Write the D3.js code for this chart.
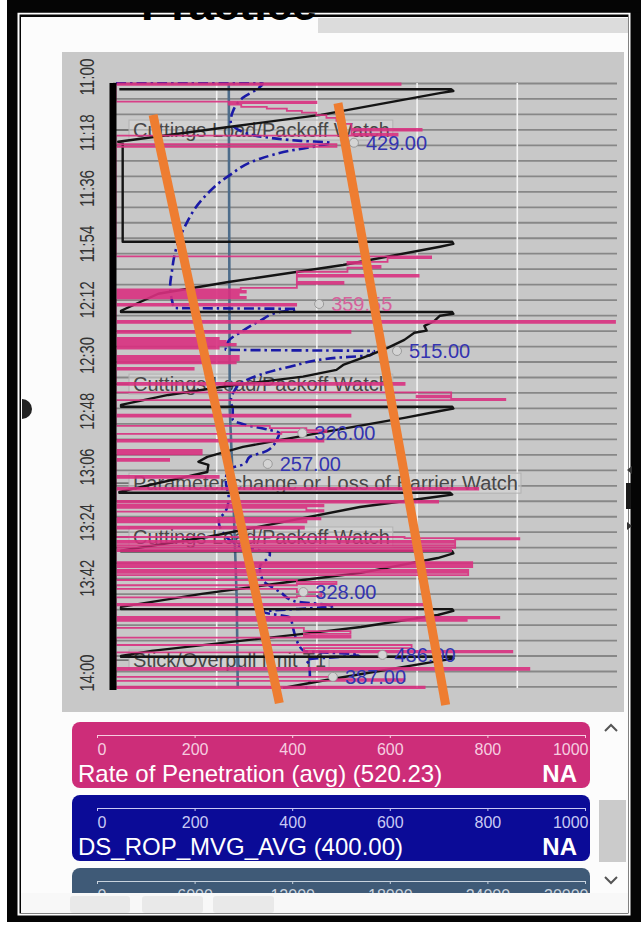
<!DOCTYPE html>
<html>
<head>
<meta charset="utf-8">
<script src="https://cdn.jsdelivr.net/npm/d3@7"></script>
<style>
  html, body { margin: 0; padding: 0; background: #ffffff; }
  svg { display: block; font-family: "Liberation Sans", Arial, sans-serif; }
</style>
</head>
<body>
<svg id="chart" width="641" height="928"></svg>
<script>
// ---------------- data ----------------
// time is in minutes after 11:00

// Rate of Penetration samples [minute, ROP]
const ropSamples = [
  [0,0],[0.1,568],[0.6,0],
  [6.0,400],[6.5,225],[7.0,250],[7.7,301],[8.3,341],[9.0,371],[9.6,400],[10.4,420],[11.3,440],[12.2,454],[13.2,470],[14.8,610],[15.4,470],[16.4,562],[17.0,0],
  [19.8,440],[20.6,0],
  [56.0,629],[56.6,542],[57.8,462],[58.4,500],[59.1,528],[59.7,462],[61.0,361],[62.0,604],[62.6,361],[64.3,454],[64.9,361],[66.2,249],[66.7,0],[67.2,259],[67.7,0],[68.2,245],[68.7,0],[69.1,259],[69.6,0],
  [71.4,359.55],[71.9,0],
  [76.9,996],[77.5,0],
  [80.1,468],[80.7,0],
  [82.4,205],[82.9,0],[83.3,219],[83.8,0],[84.3,239],[84.8,0],[85.3,205],[85.8,0],
  [88.2,245],[88.7,0],[89.1,245],[89.6,0],[90.1,239],[90.6,0],[92.1,155],[92.6,0],
  [96.9,576],[97.5,0],
  [100.0,669],[101.0,600],[101.6,669],[102.1,777],[102.5,0],
  [107.2,468],[107.8,0],
  [110.8,307],[111.5,380],[112.2,420],[112.8,330],[113.4,0],
  [115.3,414],[115.9,0],
  [118.6,171],[119.2,0],[119.5,171],[120.0,0],
  [121.5,106],[122.1,0],
  [127.0,205],[127.6,0],
  [130.8,723],[131.4,0],
  [135.0,643],[135.6,0],
  [136.3,414],[136.8,0],[137.3,380],[138.0,414],[138.5,0],
  [140.5,408],[141.0,0],[141.5,380],[142.0,0],
  [143.4,375],[144.0,0],
  [146.7,576],[147.1,805],[147.5,677],[148.0,0],
  [148.6,677],[149.3,0],[149.6,677],[150.2,0],
  [150.9,669],[151.3,0],
  [154.8,711],[155.4,0],[155.8,711],[156.4,0],
  [157.3,703],[157.8,0],[158.3,703],[159.0,0],
  [160.6,361],[161.2,440],[161.9,361],[162.3,0],
  [163.5,361],[164.5,410],[165.8,361],[166.2,0],
  [168.3,616],[168.8,0],
  [172.5,765],[173.0,0],[173.3,700],[173.8,0],
  [176.1,375],[177.1,468],[178.0,375],[178.7,468],[179.2,0],
  [181.6,590],[182.6,375],[183.5,791],[184.0,0],
  [189.0,825],[189.6,0],
  [191.9,440],[192.6,576],[193.2,0],
  [195.1,616],[195.5,0]
];

// DS_ROP_MVG_AVG samples [minute, value]
const ropAvgSamples = [
  [0,0],[0.05,293],[1.6,285],[4.8,253],[9.3,233],[12.5,229],[15.8,253],[17.4,293],[18.7,369],[19.3,429],
  [20.3,404],[21.9,347],[24.5,287],[30.0,225],[37.8,171],[46.5,137],[56.2,116],[60.4,112],[65.9,108],
  [70.4,112],[72.7,116],[73.0,361],[74.0,327],[76.9,287],[80.1,253],[83.3,225],[86.2,219],[86.6,515],
  [87.9,508],[88.8,440],[91.7,347],[94.3,287],[96.6,253],[99.8,235],[103.0,229],[105.3,233],[108.8,233],
  [110.5,259],[112.1,307],[113.1,326],[115.3,321],[118.9,301],[120.8,267],[123.1,257],[124.7,225],
  [128.6,219],[134.1,225],[138.3,219],[141.5,205],[145.1,213],[148.3,233],[150.6,267],[151.5,307],
  [152.5,307],[156.4,287],[160.6,293],[164.5,328],[167.4,355],[169.0,434],[170.9,293],[172.7,347],
  [177.1,355],[180.3,361],[183.5,375],[184.8,486],[186.4,380],[188.0,386],[191.9,387],[194.5,386],[195.5,378]
];

// block position samples [minute, metres]
const blockSamples = [
  [2.0,0.3],[2.0,30.1],[2.6,30.3],[3.2,29.2],[10.3,18.4],[14.2,10.1],[19.0,0.2],[19.3,0.6],[51.3,0.6],
  [51.3,30.2],[52.0,30.3],[52.9,29.1],[58.8,20.4],[64.3,10.1],[68.1,3.8],[73.6,0.45],
  [74.0,0.45],[74.0,30.2],[74.6,30.3],[75.2,29.1],[76.9,28.6],[78.5,27.7],[80.0,27.9],[80.7,26.8],[83.0,25.9],
  [85.6,24.4],[87.9,22.8],[91.1,20.4],[92.7,19.8],[94.9,16.8],[97.5,10.8],[100.8,4.7],[104.0,0.45],
  [104.6,0.45],[104.6,30.2],[105.2,30.3],[106.0,29.1],[108.2,25.9],[112.1,19.8],[115.0,15.3],[117.6,11.4],
  [120.8,8.2],[122.4,7.4],[123.4,8.3],[125.7,8.2],[132.1,0.3],
  [132.4,0.3],[132.4,30.0],[133.0,30.2],[133.7,28.8],[137.0,21.9],[142.2,14.5],[146.7,8.2],[151.1,0.45],
  [151.3,0.45],[151.3,30.2],[152.0,30.3],[153.5,28.9],[158.3,22.0],[160.6,16.8],[165.1,7.7],[169.3,0.45],
  [170.0,0.45],[170.0,30.2],[170.6,30.3],[171.9,28.9],[175.8,22.0],[178.0,16.8],[183.5,3.2],[185.1,0.45],
  [185.4,0.45],[185.4,30.2],[186.0,30.3],[186.8,28.9],[192.9,18.9],[195.5,15.0]
];

// third lane (0–30000) samples [minute, value]
const laneThreeSamples = [[0,6753],[105.7,6813],[128.3,6992],[167.1,7231],[195.5,7291]];

// value call-outs [series, minute, value]
const valueCallouts = [
  ["avg",19.3,429],["rop",71.4,359.55],["avg",86.6,515],["avg",113.1,326],
  ["avg",123.1,257],["avg",164.5,328],["avg",184.8,486],["avg",191.9,387]
];

// event markers [minute, text]
const eventMinutes = [15.2, 97.3, 129.3, 146.7, 186.5];
const eventTexts = [
  "Cuttings Load/Packoff Watch",
  "Cuttings Load/Packoff Watch",
  "Parameter change or Loss of Barrier Watch",
  "Cuttings Load/Packoff Watch",
  "Stick/Overpull limit T1"
];

// hand-drawn trend strokes [[ROP, minute], [ROP, minute]]
const trendStrokes = [
  [[74,10.3],[326,200.4]],
  [[443,6.5],[658,201.0]]
];

// time axis
const timeLabels = ["11:00","11:18","11:36","11:54","12:12","12:30","12:48","13:06","13:24","13:42"];
const timeLabelMinutes = [0,18,36,54,72,90,108,126,144,162];
const axisEndLabel = "14:00";
const gridMinutes = d3.range(0, 196, 5);
const ropGridValues = [200,400,600,800];

// legend lanes
const legendTitles = ["Rate of Penetration (avg) (520.23)", "DS_ROP_MVG_AVG (400.00)", ""];
const legendStatus = ["NA", "NA", ""];
const legendTicks = [
  [0,200,400,600,800,1000],
  [0,200,400,600,800,1000],
  [0,6000,12000,18000,24000,30000]
];

// ---------------- styles ----------------
const C = {
  rop: "#d8307f", avg: "#1a1aa6", block: "#141414", lane3: "#4d6c8a",
  panel: "#c8c8c8", gridH: "#878787", gridV: "#f3f3f3",
  laneFill: ["#cd2d79", "#0b0b97", "#3f5a77"],
  laneInk: ["#f6cde0", "#c9c9f4", "#c9d3de"],
  ropLabel: "#d6619c", avgLabel: "#3434b0", orange: "#ee7d31"
};

// ---------------- scales ----------------
const plot = { left: 113, right: 617, top: 83, bottom: 688 };
const y = d3.scaleLinear().domain([0, 195.5]).range([plot.top, plot.bottom]);
const xRop = d3.scaleLinear().domain([0, 1000]).range([116, 617]);
const xBlock = d3.scaleLinear().domain([0, 45]).range([116, 617]);
const xLane3 = d3.scaleLinear().domain([0, 30000]).range([116, 617]);

const svg = d3.select("#chart");
const defs = svg.append("defs");
defs.append("clipPath").attr("id", "plotClip").append("rect")
  .attr("x", plot.left).attr("y", plot.top - 1).attr("width", plot.right - plot.left + 4).attr("height", plot.bottom - plot.top + 2);
defs.append("clipPath").attr("id", "ropClip").append("rect")
  .attr("x", 116.5).attr("y", plot.top - 1).attr("width", 505).attr("height", plot.bottom - plot.top + 2);
defs.append("clipPath").attr("id", "lowerClip").append("rect")
  .attr("x", 21).attr("y", 714).attr("width", 607).attr("height", 179);

// ---------------- frame ----------------
svg.append("rect").attr("x", 7).attr("y", 0).attr("width", 634).attr("height", 922).attr("fill", "#050505");
svg.append("rect").attr("x", 18.5).attr("y", 13.5).attr("width", 611).attr("height", 901)
  .attr("fill", "none").attr("stroke", "#ffffff").attr("stroke-width", 2);
svg.append("rect").attr("x", 21).attr("y", 17).attr("width", 607).attr("height", 896).attr("fill", "#fcfcfc");
svg.append("rect").attr("x", 318).attr("y", 18).attr("width", 310).attr("height", 15).attr("fill", "#dcdcdc");
// slide title, mostly hidden behind the top of the frame
svg.append("text").attr("x", 141).attr("y", 20)
  .attr("font-size", 44).attr("font-weight", "bold").attr("fill", "#000")
  .attr("textLength", 176).attr("lengthAdjust", "spacingAndGlyphs").text("Practice");
svg.append("rect").attr("x", 7).attr("y", 0).attr("width", 634).attr("height", 12.5).attr("fill", "#050505");

// side handles
svg.append("path").attr("d", d3.arc()({ innerRadius: 0, outerRadius: 10, startAngle: 0, endAngle: Math.PI }))
  .attr("transform", "translate(22,409)").attr("fill", "#222");
svg.append("path").attr("d", "M632,466 L627,470 L632,474 Z").attr("fill", "#333");
svg.append("rect").attr("x", 626).attr("y", 483).attr("width", 5).attr("height", 26).attr("fill", "#1a1a1a");
svg.append("path").attr("d", "M627,522 L632,526 L627,530 Z").attr("fill", "#333");

// ---------------- chart panel ----------------
svg.append("rect").attr("x", 62).attr("y", 52).attr("width", 562).attr("height", 660).attr("fill", C.panel);

// horizontal grid
svg.append("g").attr("transform", `translate(${plot.right},0)`)
  .call(d3.axisLeft(y).tickValues(gridMinutes).tickSize(plot.right - plot.left).tickFormat(""))
  .call(g => g.select(".domain").remove())
  .call(g => g.selectAll(".tick line").attr("stroke", C.gridH).attr("stroke-width", 1.8));

// vertical grid
svg.append("g").attr("transform", `translate(0,${plot.bottom})`)
  .call(d3.axisTop(xRop).tickValues(ropGridValues).tickSize(plot.bottom - plot.top).tickFormat(""))
  .call(g => g.select(".domain").remove())
  .call(g => g.selectAll(".tick line").attr("stroke", C.gridV).attr("stroke-width", 1.6));

// time labels
const yLab = svg.append("g").attr("fill", "#333").attr("font-size", 21);
yLab.selectAll("text.t").data(timeLabels).join("text").attr("class", "t")
  .attr("transform", (d, i) => `translate(86,${y(timeLabelMinutes[i]) - 6}) rotate(-90)`)
  .attr("text-anchor", "middle").attr("dominant-baseline", "central")
  .attr("textLength", 37).attr("lengthAdjust", "spacingAndGlyphs").text(d => d);
yLab.append("text")
  .attr("transform", `translate(86,${y.range()[1] - 15}) rotate(-90)`)
  .attr("text-anchor", "middle").attr("dominant-baseline", "central")
  .attr("textLength", 37).attr("lengthAdjust", "spacingAndGlyphs").text(axisEndLabel);

// event markers (drawn beneath the curves)
const ev = svg.append("g");
eventTexts.forEach((t, i) => {
  const yy = y(eventMinutes[i]);
  const g = ev.append("g");
  g.append("line").attr("x1", 116).attr("x2", 129).attr("y1", yy).attr("y2", yy)
    .attr("stroke", "#6e6e6e").attr("stroke-width", 1.6);
  const box = g.append("rect").attr("x", 129).attr("y", yy - 10).attr("height", 20)
    .attr("fill", "#d9d9d9").attr("fill-opacity", 0.5).attr("stroke", "#b2b2b2").attr("stroke-width", 1);
  const tx = g.append("text").attr("x", 133).attr("y", yy).attr("dominant-baseline", "central")
    .attr("font-size", 20).attr("fill", "#474747").text(t);
  box.attr("width", tx.node().getComputedTextLength() + 7);
});

// curves
const series = svg.append("g").attr("clip-path", "url(#plotClip)");

series.append("path").datum(laneThreeSamples)
  .attr("d", d3.line().x(d => xLane3(d[1])).y(d => y(d[0])))
  .attr("fill", "none").attr("stroke", C.lane3).attr("stroke-width", 2.6);

svg.append("path").datum(ropSamples).attr("clip-path", "url(#ropClip)")
  .attr("d", d3.line().x(d => xRop(d[1])).y(d => y(d[0])).curve(d3.curveStepBefore))
  .attr("fill", "none").attr("stroke", C.rop).attr("stroke-width", 1.8).attr("stroke-opacity", 0.9);

series.append("path").datum(ropAvgSamples)
  .attr("d", d3.line().x(d => xRop(d[1])).y(d => y(d[0])).curve(d3.curveMonotoneY))
  .attr("fill", "none").attr("stroke", C.avg).attr("stroke-width", 2.6)
  .attr("stroke-dasharray", "10,4,2.5,4");

series.append("path").datum(blockSamples)
  .attr("d", d3.line().x(d => xBlock(d[1])).y(d => y(d[0])))
  .attr("fill", "none").attr("stroke", C.block).attr("stroke-width", 2.4).attr("stroke-linejoin", "round");

// value call-outs
const co = svg.append("g");
valueCallouts.forEach(([s, m, v]) => {
  const px = xRop(v), py = y(m);
  co.append("circle").attr("cx", px + 23).attr("cy", py).attr("r", 4.5)
    .attr("fill", "#d4d4d4").attr("stroke", "#9a9a9a").attr("stroke-width", 1);
  co.append("text").attr("x", px + 35).attr("y", py).attr("dominant-baseline", "central")
    .attr("font-size", 20).attr("fill", s === "rop" ? C.ropLabel : C.avgLabel)
    .text(d3.format(".2f")(v));
});

// left axis bar
svg.append("line").attr("x1", 113).attr("x2", 113).attr("y1", plot.top).attr("y2", plot.bottom + 2)
  .attr("stroke", "#000").attr("stroke-width", 7);

// trend strokes
svg.append("g").selectAll("line").data(trendStrokes).join("line")
  .attr("x1", d => xRop(d[0][0])).attr("y1", d => y(d[0][1]))
  .attr("x2", d => xRop(d[1][0])).attr("y2", d => y(d[1][1]))
  .attr("stroke", C.orange).attr("stroke-width", 9);

// ---------------- lane legend ----------------
const lower = svg.append("g").attr("clip-path", "url(#lowerClip)");
const laneTops = [722, 795, 868];
legendTitles.forEach((title, i) => {
  const top = laneTops[i];
  const g = lower.append("g");
  g.append("rect").attr("x", 72).attr("y", top).attr("width", 518).attr("height", 66)
    .attr("rx", 8).attr("fill", C.laneFill[i]);
  const ls = d3.scaleLinear().domain(d3.extent(legendTicks[i])).range([97, 585]);
  const ax = g.append("g").attr("transform", `translate(0,${top + 13})`)
    .call(d3.axisBottom(ls).tickValues(legendTicks[i]).tickSize(3).tickSizeOuter(0).tickPadding(6)
      .tickFormat(d3.format("d")));
  ax.select(".domain").attr("stroke", C.laneInk[i]).attr("stroke-width", 1.2);
  ax.selectAll(".tick line").attr("stroke", C.laneInk[i]);
  ax.selectAll(".tick text").attr("fill", C.laneInk[i]).attr("font-size", 16)
    .attr("font-family", "\"Liberation Sans\", Arial, sans-serif")
    .attr("text-anchor", (d, k, n) => k === 0 ? "start" : (k === n.length - 1 ? "end" : "middle"))
    .attr("dx", (d, k, n) => k === n.length - 1 ? 3 : 0);
  g.append("text").attr("x", 78).attr("y", top + 60).attr("font-size", 24).attr("fill", "#ffffff").text(title);
  g.append("text").attr("x", 577).attr("y", top + 60).attr("font-size", 24).attr("font-weight", "bold")
    .attr("text-anchor", "end").attr("fill", "#ffffff").text(legendStatus[i]);
});

// scroll column
svg.append("rect").attr("x", 599).attr("y", 800).attr("width", 27).attr("height", 62).attr("fill", "#cbcbcb");
svg.append("path").attr("d", "M605,731 L611,725 L617,731").attr("fill", "none").attr("stroke", "#555").attr("stroke-width", 2);
svg.append("path").attr("d", "M605,877 L611,883 L617,877").attr("fill", "none").attr("stroke", "#555").attr("stroke-width", 2);

// footer buttons
svg.append("rect").attr("x", 21).attr("y", 893).attr("width", 607).attr("height", 20).attr("fill", "#f8f8f8");
[[70,130],[142,203],[213,274]].forEach(([a, b]) => {
  svg.append("rect").attr("x", a).attr("y", 896).attr("width", b - a).attr("height", 17).attr("rx", 3).attr("fill", "#e9e9e9");
});
</script>
</body>
</html>
